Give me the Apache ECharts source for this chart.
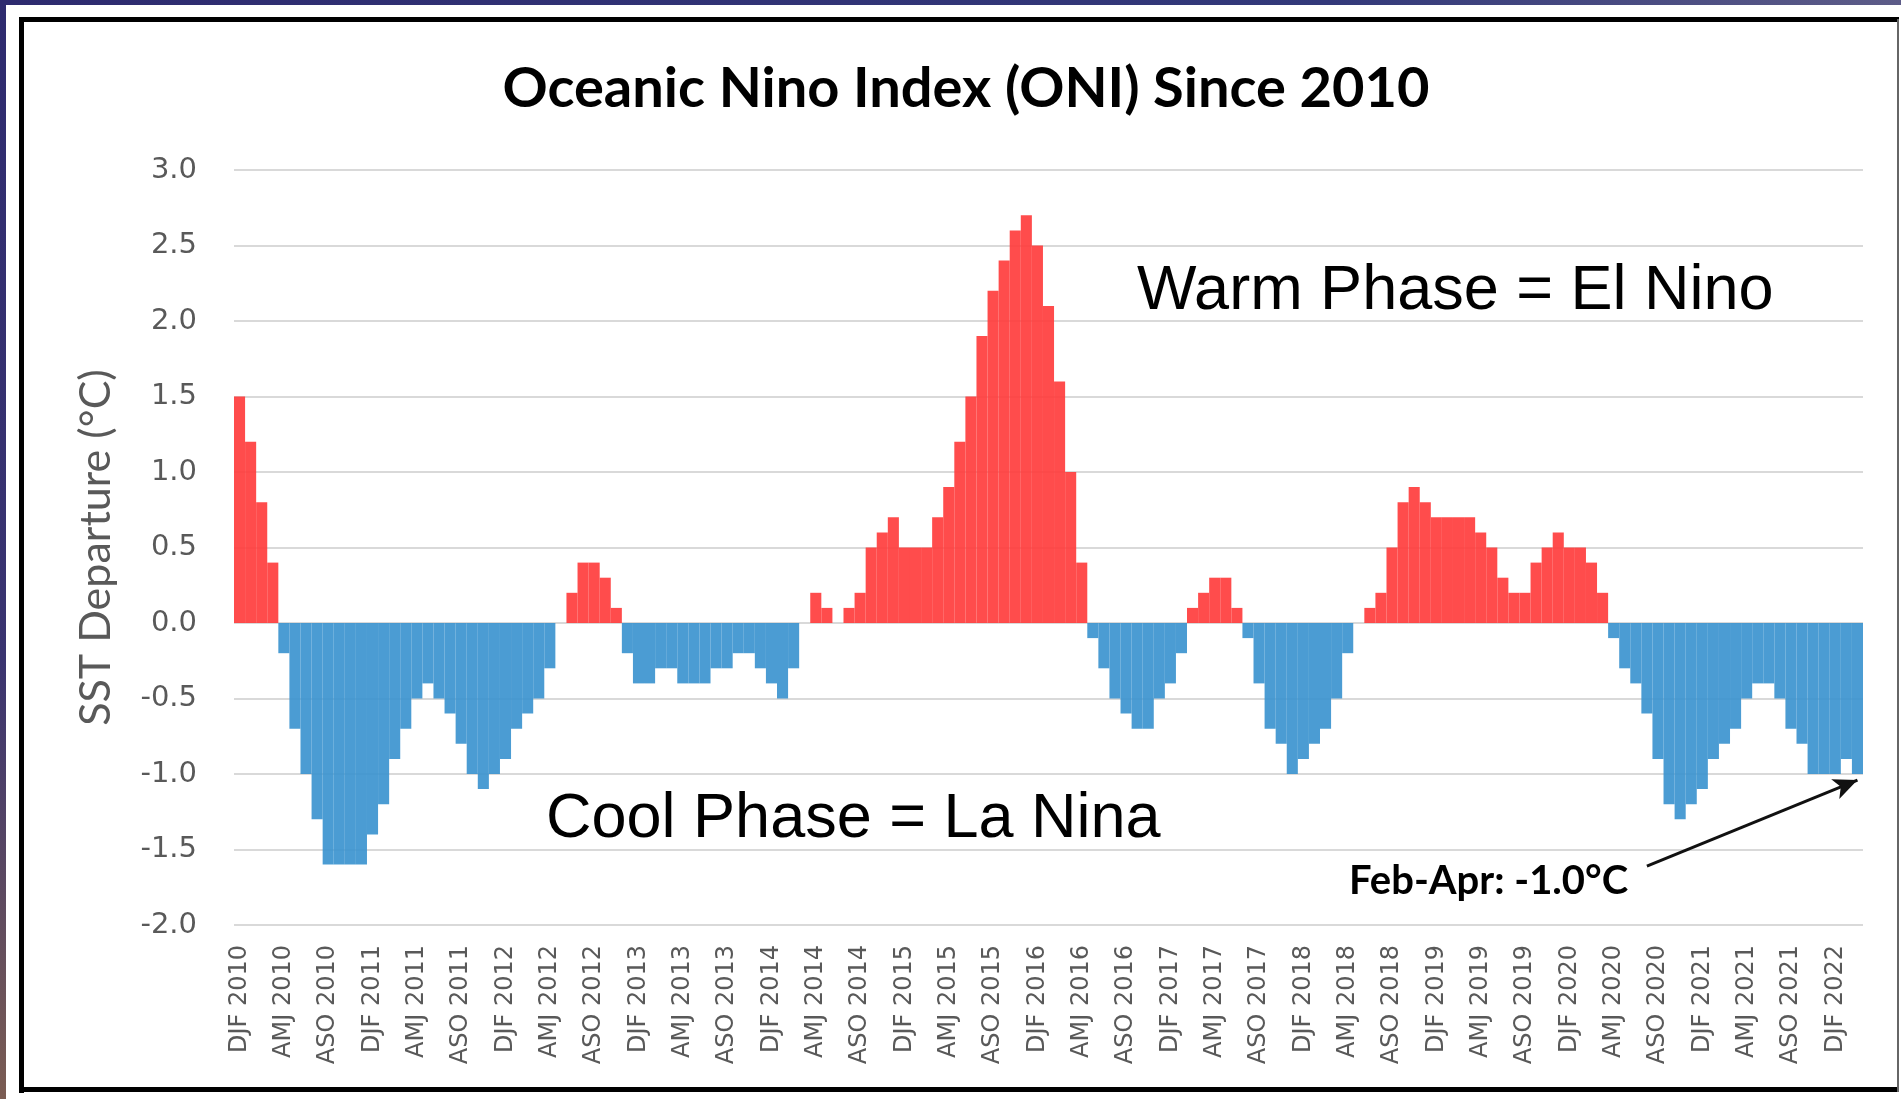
<!DOCTYPE html>
<html>
<head>
<meta charset="utf-8">
<script src="https://cdn.jsdelivr.net/npm/echarts@6/dist/echarts.min.js"></script>
<style>
  html, body { margin: 0; padding: 0; background: #fff; }
  #chart { width: 1901px; height: 1099px; }
</style>
</head>
<body>
<div id="chart"></div>
<script>
// three-month seasons, DJF 2010 .. FMA 2022
const seasons = ["DJF", "JFM", "FMA", "MAM", "AMJ", "MJJ", "JJA", "JAS", "ASO", "SON", "OND", "NDJ"];
const years = [2010, 2011, 2012, 2013, 2014, 2015, 2016, 2017, 2018, 2019, 2020, 2021, 2022];

// ONI values (°C), one row per year
const oni = [
  1.5, 1.2, 0.8, 0.4, -0.2, -0.7, -1.0, -1.3, -1.6, -1.6, -1.6, -1.6,
  -1.4, -1.2, -0.9, -0.7, -0.5, -0.4, -0.5, -0.6, -0.8, -1.0, -1.1, -1.0,
  -0.9, -0.7, -0.6, -0.5, -0.3, 0.0, 0.2, 0.4, 0.4, 0.3, 0.1, -0.2,
  -0.4, -0.4, -0.3, -0.3, -0.4, -0.4, -0.4, -0.3, -0.3, -0.2, -0.2, -0.3,
  -0.4, -0.5, -0.3, 0.0, 0.2, 0.1, 0.0, 0.1, 0.2, 0.5, 0.6, 0.7,
  0.5, 0.5, 0.5, 0.7, 0.9, 1.2, 1.5, 1.9, 2.2, 2.4, 2.6, 2.7,
  2.5, 2.1, 1.6, 1.0, 0.4, -0.1, -0.3, -0.5, -0.6, -0.7, -0.7, -0.5,
  -0.4, -0.2, 0.1, 0.2, 0.3, 0.3, 0.1, -0.1, -0.4, -0.7, -0.8, -1.0,
  -0.9, -0.8, -0.7, -0.5, -0.2, 0.0, 0.1, 0.2, 0.5, 0.8, 0.9, 0.8,
  0.7, 0.7, 0.7, 0.7, 0.6, 0.5, 0.3, 0.2, 0.2, 0.4, 0.5, 0.6,
  0.5, 0.5, 0.4, 0.2, -0.1, -0.3, -0.4, -0.6, -0.9, -1.2, -1.3, -1.2,
  -1.1, -0.9, -0.8, -0.7, -0.5, -0.4, -0.4, -0.5, -0.7, -0.8, -1.0, -1.0,
  -1.0, -0.9, -1.0
];

const categories = [];
years.forEach((y) => seasons.forEach((s) => categories.push(s + " " + y)));
categories.length = oni.length;

const WARM = "rgba(255, 56, 56, 0.9)";
const COOL = "rgba(55, 145, 206, 0.9)";
const GREY = "#595959";

const chart = echarts.init(document.getElementById("chart"));
chart.setOption({
  animation: false,
  title: {
    text: "Oceanic Nino Index (ONI) Since 2010",
    left: 961,
    top: 56,
    textAlign: "center",
    textStyle: { fontFamily: "Lato", fontWeight: "bold", fontSize: 56, color: "#000" },
  },
  grid: { left: 234, right: 38, top: 170, bottom: 174 },
  xAxis: {
    type: "category",
    data: categories,
    axisLine: { show: false },
    axisTick: { show: false },
    axisLabel: {
      interval: 3,
      rotate: 90,
      margin: 20,
      fontFamily: "DejaVu Sans",
      fontSize: 24,
      color: GREY,
    },
  },
  yAxis: {
    type: "value",
    min: -2,
    max: 3,
    interval: 0.5,
    name: "SST Departure (°C)",
    nameLocation: "middle",
    nameGap: 116,
    nameTextStyle: { fontFamily: "Lato", fontSize: 43, color: GREY },
    axisLine: { show: false },
    axisTick: { show: false },
    axisLabel: {
      margin: 37,
      fontFamily: "DejaVu Sans",
      fontSize: 29,
      color: GREY,
      formatter: (v) => v.toFixed(1),
    },
    splitLine: { lineStyle: { color: "#d9d9d9", width: 2 } },
  },
  series: [
    {
      type: "bar",
      data: oni,
      barCategoryGap: "0%",
      itemStyle: { color: (p) => (p.value >= 0 ? WARM : COOL) },
      markLine: {
        silent: true,
        symbol: ["none", "arrow"],
        symbolSize: [16, 24],
        label: { show: false },
        lineStyle: { color: "#111", width: 3, type: "solid" },
        data: [[{ coord: [127, -1.61] }, { coord: [146, -1.04] }]],
      },
    },
  ],
  graphic: [
    // outer frame strips
    {
      type: "rect",
      shape: { x: 0, y: 0, width: 1901, height: 5 },
      style: {
        fill: new echarts.graphic.LinearGradient(0, 0, 1, 0, [
          { offset: 0, color: "#2e2b6f" },
          { offset: 0.7, color: "#33397a" },
          { offset: 1, color: "#5d5c88" },
        ]),
      },
    },
    {
      type: "rect",
      shape: { x: 0, y: 0, width: 6, height: 1099 },
      style: {
        fill: new echarts.graphic.LinearGradient(0, 0, 0, 1, [
          { offset: 0, color: "#2e2b6f" },
          { offset: 0.6, color: "#3a3470" },
          { offset: 1, color: "#7b5c52" },
        ]),
      },
    },
    // chart box border
    { type: "line", shape: { x1: 21.5, y1: 17, x2: 21.5, y2: 1093 }, style: { stroke: "#000", lineWidth: 5 } },
    { type: "line", shape: { x1: 19, y1: 19.5, x2: 1899, y2: 19.5 }, style: { stroke: "#000", lineWidth: 5 } },
    { type: "line", shape: { x1: 19, y1: 1089.5, x2: 1899, y2: 1089.5 }, style: { stroke: "#000", lineWidth: 5 } },
    { type: "line", shape: { x1: 1898, y1: 19, x2: 1898, y2: 1092 }, style: { stroke: "#666", lineWidth: 2 } },
    // annotations
    {
      type: "text",
      left: 1137,
      top: 260,
      style: { text: "Warm Phase = El Nino", fontFamily: "Liberation Sans", fontSize: 63, fill: "#000" },
    },
    {
      type: "text",
      left: 546,
      top: 788,
      style: { text: "Cool Phase = La Nina", fontFamily: "Liberation Sans", fontSize: 63, fill: "#000" },
    },
    {
      type: "text",
      left: 1349,
      top: 861,
      style: { text: "Feb-Apr: -1.0°C", fontFamily: "Lato", fontWeight: "bold", fontSize: 40, fill: "#000" },
    },
  ],
});
</script>
</body>
</html>
